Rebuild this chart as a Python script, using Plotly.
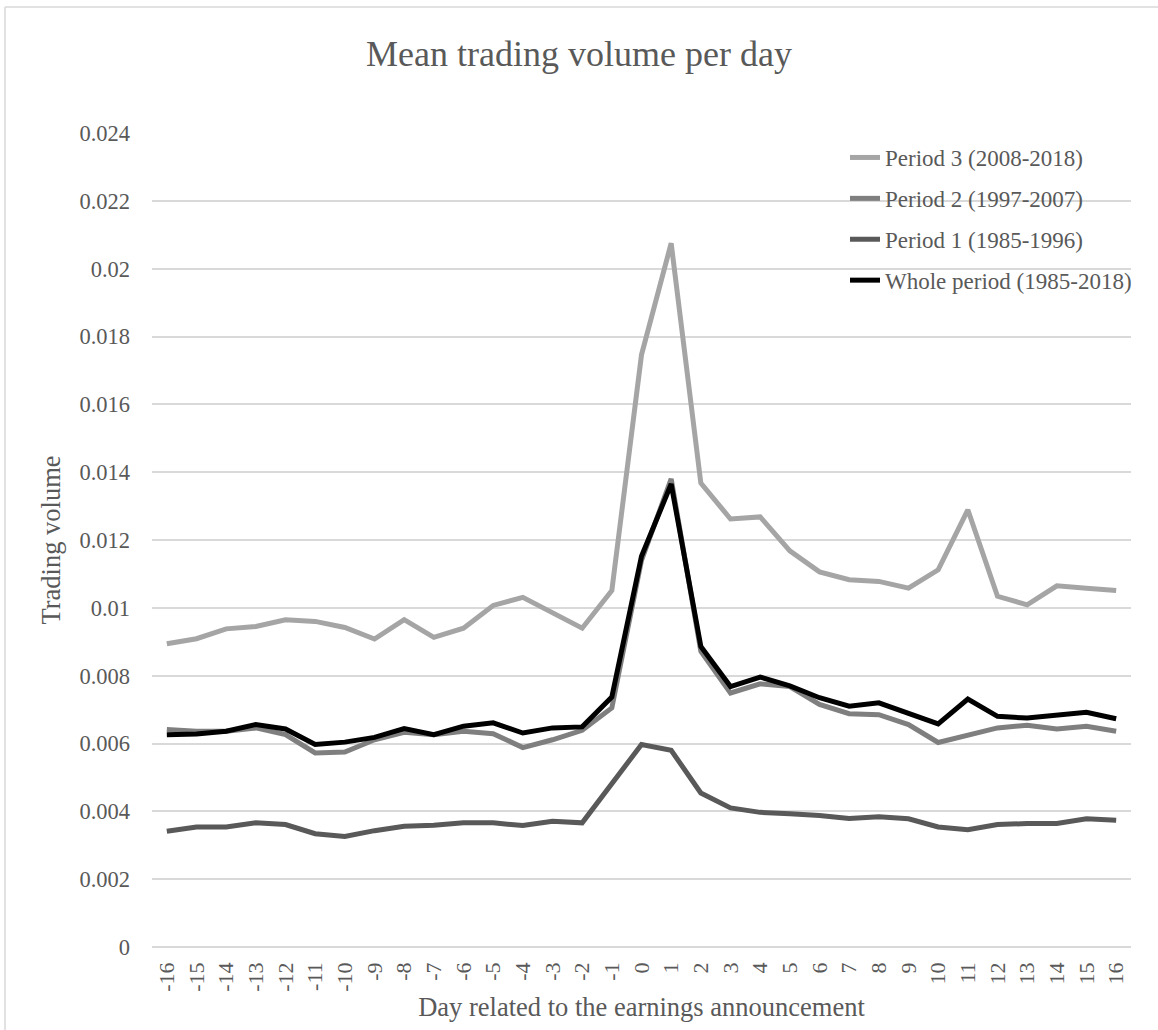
import plotly.graph_objects as go

days = [str(d) for d in range(-16, 17)]

period3 = [0.00894, 0.00909, 0.00938, 0.00945, 0.00965, 0.00960, 0.00942, 0.00908, 0.00965, 0.00913,
           0.00940, 0.01007, 0.01031, 0.00985, 0.00940, 0.01051, 0.01746, 0.02075, 0.01368, 0.01262,
           0.01268, 0.01168, 0.01106, 0.01083, 0.01078, 0.01058, 0.01112, 0.01289, 0.01034, 0.01009,
           0.01065, 0.01058, 0.01051]
period2 = [0.00641, 0.00636, 0.00636, 0.00646, 0.00626, 0.00572, 0.00575, 0.00611, 0.00633, 0.00626,
           0.00636, 0.00629, 0.00588, 0.00611, 0.00639, 0.00705, 0.01140, 0.01380, 0.00872, 0.00749,
           0.00776, 0.00768, 0.00715, 0.00688, 0.00685, 0.00656, 0.00603, 0.00626, 0.00646, 0.00654,
           0.00643, 0.00651, 0.00636]
period1 = [0.00341, 0.00354, 0.00354, 0.00366, 0.00361, 0.00334, 0.00326, 0.00343, 0.00356, 0.00359,
           0.00366, 0.00366, 0.00358, 0.00371, 0.00366, 0.00482, 0.00597, 0.00580, 0.00454, 0.00410,
           0.00397, 0.00393, 0.00388, 0.00379, 0.00384, 0.00378, 0.00354, 0.00346, 0.00361, 0.00364,
           0.00364, 0.00378, 0.00374]
whole = [0.00626, 0.00628, 0.00636, 0.00656, 0.00643, 0.00597, 0.00604, 0.00618, 0.00644, 0.00626,
         0.00651, 0.00661, 0.00631, 0.00646, 0.00649, 0.00737, 0.01152, 0.01365, 0.00886, 0.00768,
         0.00796, 0.00770, 0.00735, 0.00710, 0.00720, 0.00690, 0.00658, 0.00731, 0.00680, 0.00675,
         0.00682, 0.00692, 0.00673]

series = [
    ("Period 3 (2008-2018)", period3, "#A5A5A5"),
    ("Period 2 (1997-2007)", period2, "#7F7F7F"),
    ("Period 1 (1985-1996)", period1, "#595959"),
    ("Whole period (1985-2018)", whole, "#000000"),
]

y_ticks = [0, 0.002, 0.004, 0.006, 0.008, 0.01, 0.012, 0.014, 0.016, 0.018, 0.02, 0.022, 0.024]
y_tick_text = ["0", "0.002", "0.004", "0.006", "0.008", "0.01", "0.012", "0.014", "0.016",
               "0.018", "0.02", "0.022", "0.024"]

FONT = "Liberation Serif, Times New Roman, serif"
TXT = "#595959"
GRID = "#D9D9D9"

fig = go.Figure()
for name, vals, col in series:
    fig.add_trace(go.Scatter(
        x=days, y=vals, mode="lines", name=name, legendgroup=name,
        line=dict(color=col, width=5),
    ))

W, H = 1158, 1030
L, R, T, B = 152, 27, 133, 82.5
pw, ph = W - L - R, H - T - B

def px_x(p):
    return (p - L) / pw

def px_y(p):
    return (H - B - p) / ph

fig.update_layout(
    width=W, height=H,
    margin=dict(l=L, r=R, t=T, b=B, autoexpand=False),
    paper_bgcolor="white", plot_bgcolor="white",
    font=dict(family=FONT, color=TXT),
    title=dict(text="Mean trading volume per day", x=0.5, xanchor="center",
               y=1 - 53 / H, yanchor="middle", font=dict(size=36, color=TXT, family=FONT)),
    showlegend=True,
    legend=dict(x=px_x(845), y=px_y(136), xanchor="left", yanchor="top",
                bgcolor="rgba(0,0,0,0)", font=dict(size=23, color=TXT, family=FONT),
                traceorder="grouped", tracegroupgap=8, itemwidth=30),
    xaxis=dict(type="category", range=[-0.5, 32.5], showgrid=False, zeroline=False,
               showline=False, ticks="", tickangle=-90, tickfont=dict(size=22, color=TXT),
               ticklabelstandoff=10,
               title=dict(text="Day related to the earnings announcement",
                          font=dict(size=26.5, color=TXT), standoff=6)),
    yaxis=dict(range=[0, 0.024], tickvals=y_ticks, ticktext=y_tick_text,
               showgrid=True, gridcolor=GRID, gridwidth=1.5,
               zeroline=True, zerolinecolor=GRID, zerolinewidth=1.5,
               showline=False, ticks="", tickfont=dict(size=22.5, color=TXT),
               ticklabelstandoff=21,
               title=dict(text="Trading volume", font=dict(size=26.5, color=TXT), standoff=11)),
)

# chart frame (left and top edges visible in the reference)
fig.add_shape(type="line", xref="paper", yref="paper", x0=px_x(5), x1=px_x(5),
              y0=px_y(7), y1=px_y(H + 5), line=dict(color=GRID, width=1.5), layer="below")
fig.add_shape(type="line", xref="paper", yref="paper", x0=px_x(5), x1=px_x(W + 5),
              y0=px_y(7), y1=px_y(7), line=dict(color=GRID, width=1.5), layer="below")

fig.write_html("out.html", config={"displayModeBar": False},
               post_script="document.body.style.margin='0px';document.body.style.overflow='hidden';")
